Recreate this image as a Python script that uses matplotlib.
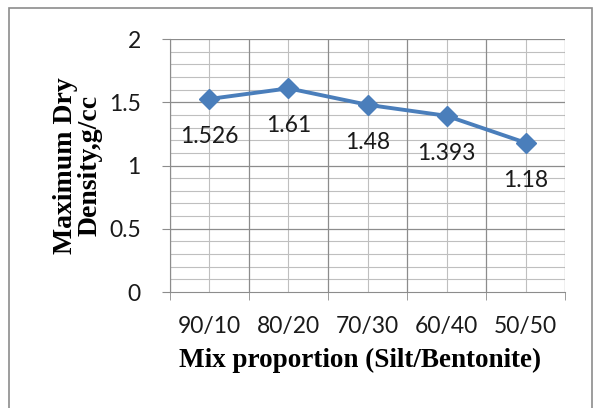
import matplotlib.pyplot as plt
from matplotlib.patches import Rectangle

# data
mixes = ["90/10", "80/20", "70/30", "60/40", "50/50"]
mdd = [1.526, 1.61, 1.48, 1.393, 1.18]
yticks = [0, 0.5, 1, 1.5, 2]

blue = "#4A7EBB"

fig = plt.figure(figsize=(5.95, 4.08), dpi=100)
ax = fig.add_axes([0.2857, 0.2843, 0.6639, 0.6201])

x = list(range(len(mixes)))
ax.plot(x, mdd, color=blue, linewidth=2.8, marker="D", markersize=10, zorder=3)

# data labels under the points
for i in range(len(x)):
    ax.annotate(str(mdd[i]), (x[i], mdd[i]), xytext=(0, -27), textcoords="offset points",
                ha="center", va="center", fontsize=16.5, family="Lato", color="#1a1a1a")

ax.set_xlim(-0.5, len(mixes) - 0.5)
ax.set_ylim(0, 2)

# grid: minor every 0.1 / half category, major every 0.5 / category boundary
for v in [i / 10 for i in range(1, 20)]:
    if round(v * 10) % 5:
        ax.axhline(v, color="#BFBFBF", linewidth=0.8, zorder=0)
for v in yticks[1:]:
    ax.axhline(v, color="#8C8C8C", linewidth=0.9, zorder=1)
for i in range(len(mixes)):
    ax.axvline(i, color="#BFBFBF", linewidth=0.8, zorder=0)
for i in range(len(mixes) + 1):
    ax.axvline(i - 0.5, color="#8C8C8C", linewidth=0.9, zorder=1)

ax.set_yticks(yticks)
ax.set_yticklabels(["0", "0.5", "1", "1.5", "2"], fontsize=16.5, family="Lato", color="#1a1a1a")
ax.set_xticks(x)
ax.set_xticklabels(mixes, fontsize=16.5, family="Lato", color="#1a1a1a")
ax.set_xticks([i - 0.5 for i in range(len(mixes) + 1)], minor=True)
ax.tick_params(axis="x", which="major", length=0, pad=17)
ax.tick_params(axis="x", which="minor", length=6, color="#8C8C8C", direction="out")
ax.tick_params(axis="y", length=6, color="#8C8C8C", pad=15)

for s in ["top", "right"]:
    ax.spines[s].set_visible(False)
ax.spines["left"].set_color("#8C8C8C")
ax.spines["bottom"].set_color("#8C8C8C")

ax.set_xlabel("Mix proportion (Silt/Bentonite)", fontsize=19.5, fontweight="bold",
              family="Liberation Serif")
ax.xaxis.set_label_coords(0.48, -0.22)
ax.set_ylabel("Maximum Dry\nDensity,g/cc", fontsize=20, fontweight="bold",
              family="Liberation Serif", linespacing=1.0)
ax.yaxis.set_label_coords(-0.17, 0.5)

# outer chart border
fig.patches.append(Rectangle((9 / 595, -0.01), 583 / 595, 1 - 8 / 408 + 0.01,
                             transform=fig.transFigure, fill=False,
                             edgecolor="#8C8C8C", linewidth=1.2))

fig.savefig("out.png", dpi=100)
